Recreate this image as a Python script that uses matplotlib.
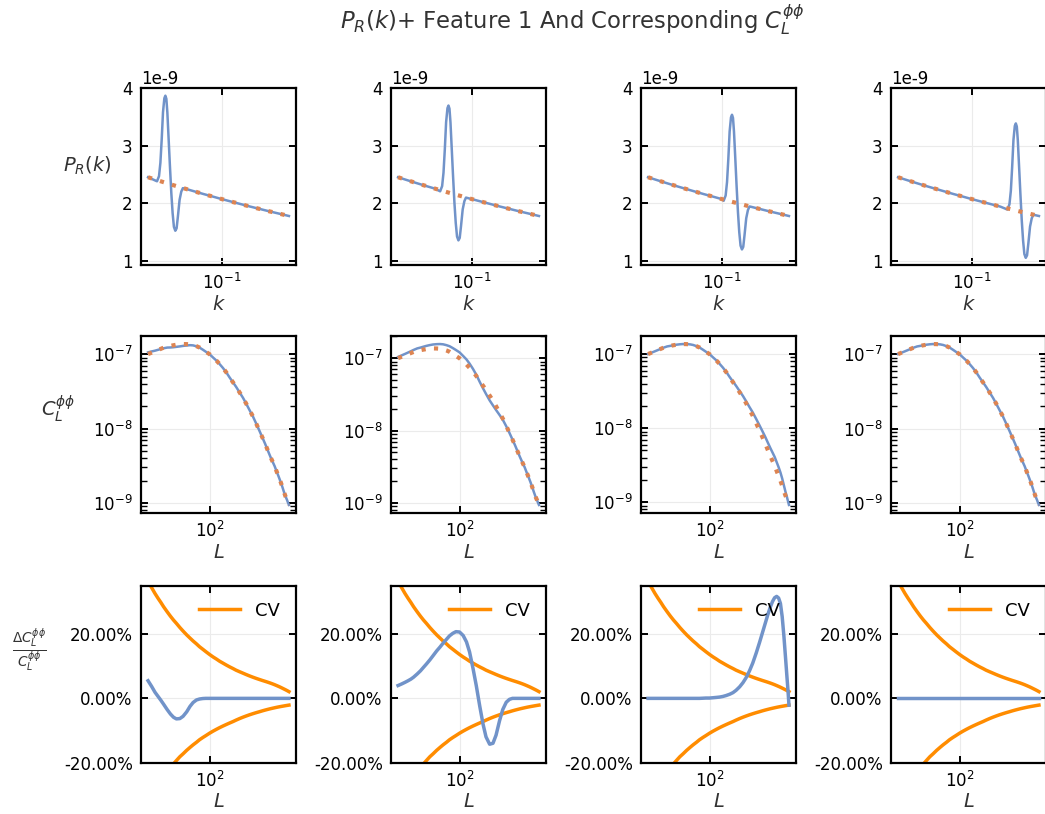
import matplotlib
matplotlib.use("Agg")
import matplotlib.pyplot as plt
import numpy as np
from matplotlib.ticker import FuncFormatter, NullLocator


# ---- row 1: primordial spectrum P_R(k), in units of 1e-9 ----
K_BASE = [0.016, 0.02, 0.025, 0.032, 0.04, 0.05, 0.063, 0.08,
          0.1, 0.126, 0.16, 0.2, 0.25, 0.32, 0.4, 0.52]
P_BASE = [2.452, 2.402, 2.353, 2.300, 2.254, 2.208, 2.161, 2.115,
          2.071, 2.028, 1.984, 1.943, 1.904, 1.861, 1.824, 1.780]

K_FEAT = [
    [0.01997, 0.02098, 0.02171, 0.02242, 0.02315, 0.02394, 0.02455, 0.02516,
     0.02578, 0.02662, 0.02748, 0.02844, 0.02937, 0.03032, 0.03138, 0.03240,
     0.03345, 0.03488, 0.03636, 0.03782],
    [0.04525, 0.04754, 0.04919, 0.05080, 0.05246, 0.05425, 0.05563, 0.05701,
     0.05842, 0.06032, 0.06227, 0.06445, 0.06655, 0.06871, 0.07111, 0.07342,
     0.07580, 0.07904, 0.08239, 0.08570],
    [0.1036, 0.1088, 0.1126, 0.1163, 0.1201, 0.1242, 0.1273, 0.1305,
     0.1337, 0.1381, 0.1425, 0.1475, 0.1523, 0.1573, 0.1628, 0.1681,
     0.1735, 0.1809, 0.1886, 0.1962],
    [0.2388, 0.2509, 0.2597, 0.2681, 0.2769, 0.2863, 0.2936, 0.3009,
     0.3083, 0.3184, 0.3287, 0.3401, 0.3513, 0.3626, 0.3753, 0.3875,
     0.4001, 0.4172, 0.4349, 0.4523],
]
P_FEAT = [
    [2.382, 2.471, 2.704, 3.107, 3.580, 3.822, 3.867, 3.812, 3.576, 3.109,
     2.642, 2.175, 1.828, 1.591, 1.524, 1.567, 1.770, 2.061, 2.202, 2.263],
    [2.208, 2.298, 2.531, 2.934, 3.408, 3.651, 3.696, 3.641, 3.406, 2.940,
     2.473, 2.006, 1.660, 1.424, 1.357, 1.400, 1.604, 1.895, 2.037, 2.099],
    [2.044, 2.135, 2.368, 2.772, 3.246, 3.490, 3.536, 3.481, 3.246, 2.780,
     2.314, 1.848, 1.502, 1.266, 1.200, 1.244, 1.448, 1.740, 1.882, 1.945],
    [1.892, 1.984, 2.218, 2.622, 3.097, 3.341, 3.386, 3.332, 3.098, 2.632,
     2.167, 1.701, 1.355, 1.120, 1.054, 1.098, 1.303, 1.596, 1.739, 1.802],
]

# ---- rows 2 and 3: lensing spectrum and fractional change ----
L_GRID = [20, 22, 24, 26, 28, 30, 33, 36, 39, 42, 46, 50, 55, 60, 65, 71, 77,
          84, 91, 100, 110, 120, 130, 142, 155, 170, 185, 200, 220, 240, 260,
          285, 310, 340, 370, 400, 430, 460, 490, 520, 550, 580, 610, 640,
          670, 700, 730, 760, 780, 800]
CL_BASE = [1.000e-7, 1.047e-7, 1.091e-7, 1.135e-7, 1.178e-7, 1.219e-7,
           1.268e-7, 1.291e-7, 1.315e-7, 1.337e-7, 1.355e-7, 1.365e-7,
           1.361e-7, 1.352e-7, 1.327e-7, 1.279e-7, 1.225e-7, 1.146e-7,
           1.074e-7, 0.998e-7, 8.97e-8, 8.17e-8, 7.36e-8, 6.52e-8, 5.69e-8,
           4.81e-8, 4.17e-8, 3.65e-8, 3.05e-8, 2.59e-8, 2.18e-8, 1.77e-8,
           1.47e-8, 1.16e-8, 9.29e-9, 7.53e-9, 6.18e-9, 5.07e-9, 4.23e-9,
           3.61e-9, 3.12e-9, 2.64e-9, 2.27e-9, 1.95e-9, 1.67e-9, 1.42e-9,
           1.23e-9, 1.10e-9, 1.01e-9, 9.4e-10]
CV_UPPER = [0.365, 0.345, 0.327, 0.312, 0.299, 0.286, 0.270, 0.256, 0.244,
            0.234, 0.221, 0.210, 0.198, 0.188, 0.179, 0.170, 0.161, 0.153,
            0.1455, 0.137, 0.129, 0.1225, 0.116, 0.110, 0.104, 0.098, 0.093,
            0.088, 0.083, 0.0786, 0.0745, 0.070, 0.0662, 0.0622, 0.0588,
            0.0557, 0.053, 0.0504, 0.0478, 0.0452, 0.0426, 0.0399, 0.0373,
            0.0347, 0.032, 0.0294, 0.0269, 0.0244, 0.0227, 0.021]
CV_LOWER = [-0.318, -0.298, -0.282, -0.267, -0.254, -0.243, -0.228, -0.215,
            -0.204, -0.194, -0.182, -0.173, -0.162, -0.153, -0.145, -0.137,
            -0.129, -0.122, -0.116, -0.1087, -0.102, -0.0964, -0.0914,
            -0.0863, -0.0815, -0.0766, -0.0723, -0.0679, -0.0629, -0.0587,
            -0.0551, -0.0512, -0.0479, -0.0445, -0.0416, -0.0388, -0.0364,
            -0.0343, -0.0324, -0.0308, -0.0293, -0.0279, -0.0267, -0.0256,
            -0.0246, -0.0237, -0.0228, -0.022, -0.0215, -0.021]
DELTA = [
    [0.055, 0.037, 0.019, 0.006, -0.006, -0.018, -0.035, -0.049, -0.059,
     -0.064, -0.063, -0.056, -0.042, -0.025, -0.013, -0.005, -0.002, -0.0005,
     0, 0, 0, 0, 0, 0, 0, 0, 0, 0, 0, 0, 0, 0, 0, 0, 0, 0, 0, 0, 0, 0, 0, 0,
     0, 0, 0, 0, 0, 0, 0, 0],
    [0.040, 0.045, 0.050, 0.055, 0.060, 0.066, 0.076, 0.086, 0.097, 0.107,
     0.120, 0.133, 0.148, 0.160, 0.172, 0.184, 0.195, 0.203, 0.208, 0.207,
     0.196, 0.176, 0.145, 0.095, 0.040, -0.025, -0.080, -0.120, -0.143,
     -0.140, -0.115, -0.070, -0.035, -0.012, -0.003, 0, 0, 0, 0, 0, 0, 0,
     0, 0, 0, 0, 0, 0, 0, 0],
    [0, 0, 0, 0, 0, 0, 0, 0, 0, 0, 0, 0, 0, 0, 0, 0, 0, 0.0005, 0.001,
     0.001, 0.002, 0.003, 0.004, 0.006, 0.009, 0.013, 0.018, 0.025, 0.036,
     0.049, 0.064, 0.086, 0.110, 0.142, 0.174, 0.205, 0.234, 0.261, 0.284,
     0.302, 0.314, 0.318, 0.313, 0.296, 0.255, 0.196, 0.130, 0.065, 0.025,
     -0.021],
    [0] * 50,
]

BLUE = "#7193c9"
ORANGE = "#dd8452"
CV_COLOR = "darkorange"
TEXT_COLOR = "#333333"

FIG_W, FIG_H = 1045, 814
COL_LEFT = [141, 391, 641, 891]
ROW_BOTTOM = [265, 513, 762.5]
AX_W, AX_H = 155, 177

plt.rcParams["axes.unicode_minus"] = False


def style_axes(ax):
    for spine in ax.spines.values():
        spine.set_linewidth(1.6)
        spine.set_color("black")
    ax.tick_params(which="both", direction="in", top=True, right=True,
                   labelsize=12, pad=6)
    ax.tick_params(which="major", length=5, width=1.4)
    ax.tick_params(which="minor", length=4, width=1.0)
    ax.xaxis.set_minor_locator(NullLocator())
    ax.grid(True, which="major", color="#ebebeb", linewidth=0.8)
    ax.set_axisbelow(True)


def add_axes(fig, row, col):
    rect = [COL_LEFT[col] / FIG_W, 1 - ROW_BOTTOM[row] / FIG_H,
            AX_W / FIG_W, AX_H / FIG_H]
    return fig.add_axes(rect)


def main():
    fig = plt.figure(figsize=(FIG_W / 100, FIG_H / 100), dpi=100)

    k_base = np.array(K_BASE)
    p_base = np.array(P_BASE) * 1e-9
    ell = np.array(L_GRID)
    cl_base = np.array(CL_BASE)
    dots = (0, (1, 2))

    for col in range(4):
        # row 1
        ax = add_axes(fig, 0, col)
        kf = np.array(K_FEAT[col])
        keep = (k_base < kf[0]) | (k_base > kf[-1])
        k_all = np.concatenate([k_base[keep], kf])
        p_all = np.concatenate([p_base[keep], np.array(P_FEAT[col]) * 1e-9])
        order = np.argsort(k_all)
        ax.plot(k_all[order], p_all[order], color=BLUE, lw=1.8)
        ax.plot(k_base, p_base, color=ORANGE, lw=3, ls=dots)
        ax.set_xscale("log")
        ax.set_ylim(0.93e-9, 4.0e-9)
        style_axes(ax)
        ax.yaxis.get_offset_text().set_fontsize(12)
        ax.set_xlabel(r"$k$", fontsize=14, color=TEXT_COLOR, labelpad=1)
        if col == 0:
            ax.set_ylabel(r"$P_R(k)$", fontsize=14, color=TEXT_COLOR,
                          rotation=0, labelpad=25)

        # row 2
        delta = np.array(DELTA[col])
        ax = add_axes(fig, 1, col)
        ax.plot(ell, cl_base * (1 + delta), color=BLUE, lw=1.8)
        ax.plot(ell, cl_base, color=ORANGE, lw=3, ls=dots)
        ax.set_xscale("log")
        ax.set_yscale("log")
        style_axes(ax)
        ax.set_xlabel(r"$L$", fontsize=14, color=TEXT_COLOR, labelpad=1)
        if col == 0:
            ax.set_ylabel(r"$C_L^{\phi\phi}$", fontsize=14, color=TEXT_COLOR,
                          rotation=0, labelpad=25)

        # row 3
        ax = add_axes(fig, 2, col)
        ax.plot(ell, CV_UPPER, color=CV_COLOR, lw=2.5, label="CV")
        ax.plot(ell, CV_LOWER, color=CV_COLOR, lw=2.5)
        ax.plot(ell, delta, color=BLUE, lw=2.5)
        ax.set_xscale("log")
        ax.set_ylim(-0.2, 0.352)
        ax.set_yticks([-0.2, 0.0, 0.2])
        ax.yaxis.set_major_formatter(FuncFormatter(lambda v, pos: f"{v:.2%}"))
        style_axes(ax)
        ax.set_xlabel(r"$L$", fontsize=14, color=TEXT_COLOR, labelpad=1)
        ax.legend(loc="upper right", frameon=False, fontsize=13,
                  handlelength=2.3)
        if col == 0:
            ax.set_ylabel(r"$\frac{\Delta C_L^{\phi\phi}}{C_L^{\phi\phi}}$",
                          fontsize=14, color=TEXT_COLOR, rotation=0,
                          labelpad=25)

    fig.suptitle(r"$P_R(k)$+ Feature 1 And Corresponding $C_L^{\phi\phi}$",
                 x=572 / FIG_W, y=0.997, fontsize=16.4, color=TEXT_COLOR)

    fig.savefig("out.png", dpi=100)
    plt.close(fig)


if __name__ == "__main__":
    main()
